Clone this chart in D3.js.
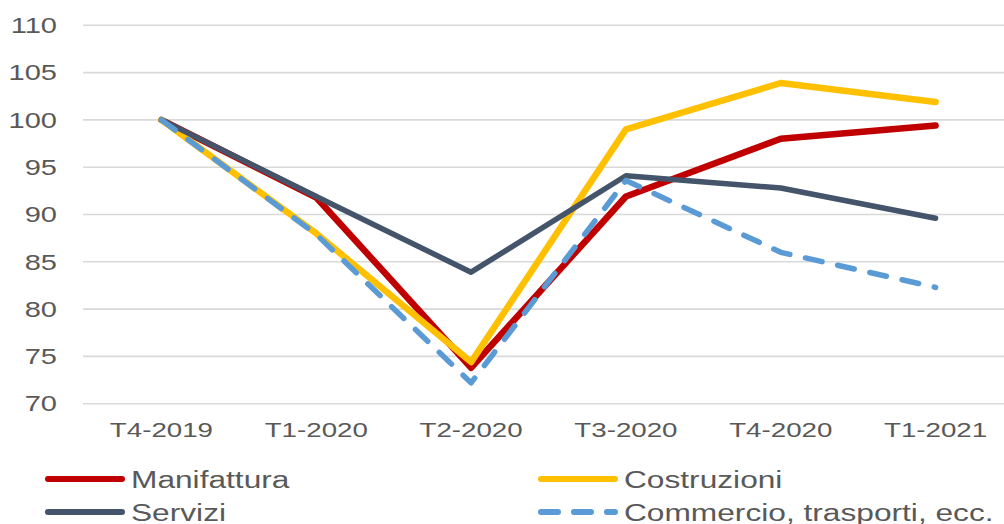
<!DOCTYPE html>
<html>
<head>
<meta charset="utf-8">
<script src="https://cdn.jsdelivr.net/npm/d3@7"></script>
<style>
  body { margin: 0; background: #fff; }
  svg { display: block; }
  text { font-family: "Liberation Sans", Arial, sans-serif; fill: #595959; }
</style>
</head>
<body>
<div id="chart"></div>
<script>

var quarters = ["T4-2019", "T1-2020", "T2-2020", "T3-2020", "T4-2020", "T1-2021"];
var yTicks = [70, 75, 80, 85, 90, 95, 100, 105, 110];

var manifattura = [100, 91.8, 73.8, 91.9, 98.0, 99.4];
var costruzioni = [100, 88.0, 74.4, 99.0, 103.9, 101.9];
var servizi     = [100, 91.9, 83.9, 94.1, 92.8, 89.6];
var commercio   = [100, 87.9, 72.2, 93.6, 86.0, 82.3];

var seriesNames = ["Manifattura", "Costruzioni", "Servizi", "Commercio, trasporti, ecc."];

var width = 1004;
var height = 524;
var stretch = 1.32;   // the text in the original is drawn wide

var series = [
  {name: seriesNames[0], values: manifattura, color: "#C00000", w: 6.5, dash: null},
  {name: seriesNames[1], values: costruzioni, color: "#FFC000", w: 6.5, dash: null},
  {name: seriesNames[2], values: servizi,     color: "#44546A", w: 5.5, dash: null},
  {name: seriesNames[3], values: commercio,   color: "#5B9BD5", w: 5.5, dash: "17,16"}
];

var svg = d3.select("#chart")
  .append("svg")
  .attr("width", width)
  .attr("height", height);

var x = d3.scalePoint()
  .domain(quarters)
  .range([84, 1013])
  .padding(0.5);

var y = d3.scaleLinear()
  .domain([70, 110])
  .range([403.7, 25.3]);

// grid
svg.append("g")
  .selectAll("line")
  .data(yTicks)
  .enter()
  .append("line")
  .attr("x1", 83)
  .attr("x2", 1013)
  .attr("y1", function(d) { return y(d); })
  .attr("y2", function(d) { return y(d); })
  .attr("stroke", "#D9D9D9")
  .attr("stroke-width", 1.6);

// y labels
svg.append("g")
  .selectAll("text")
  .data(yTicks)
  .enter()
  .append("text")
  .attr("transform", function(d) { return "translate(57," + y(d) + ") scale(" + stretch + ",1)"; })
  .attr("dy", "0.35em")
  .style("text-anchor", "end")
  .style("font-size", "22px")
  .text(function(d) { return d; });

// x labels
svg.append("g")
  .selectAll("text")
  .data(quarters)
  .enter()
  .append("text")
  .attr("transform", function(d) { return "translate(" + x(d) + ",437) scale(" + stretch + ",1)"; })
  .style("text-anchor", "middle")
  .style("font-size", "21px")
  .text(function(d) { return d; });

var line = d3.line()
  .x(function(d, i) { return x(quarters[i]); })
  .y(function(d) { return y(d); });

svg.append("g")
  .selectAll("path")
  .data(series)
  .enter()
  .append("path")
  .attr("d", function(d) { return line(d.values); })
  .attr("fill", "none")
  .attr("stroke", function(d) { return d.color; })
  .attr("stroke-width", function(d) { return d.w; })
  .attr("stroke-linecap", "round")
  .attr("stroke-linejoin", "round")
  .attr("stroke-dasharray", function(d) { return d.dash; });

// legend, two columns
var legendPos = [[45, 479], [538, 479], [45, 512], [538, 512]];

var legend = svg.append("g")
  .selectAll("g")
  .data(series)
  .enter()
  .append("g")
  .attr("transform", function(d, i) { return "translate(" + legendPos[i][0] + "," + legendPos[i][1] + ")"; });

legend.append("line")
  .attr("x1", 3)
  .attr("x2", 77)
  .attr("stroke", function(d) { return d.color; })
  .attr("stroke-width", 6)
  .attr("stroke-linecap", "round")
  .attr("stroke-dasharray", function(d) { return d.dash; });

legend.append("text")
  .attr("transform", "translate(86,9) scale(" + stretch + ",1)")
  .style("font-size", "24px")
  .text(function(d) { return d.name; });

</script>
</body>
</html>
